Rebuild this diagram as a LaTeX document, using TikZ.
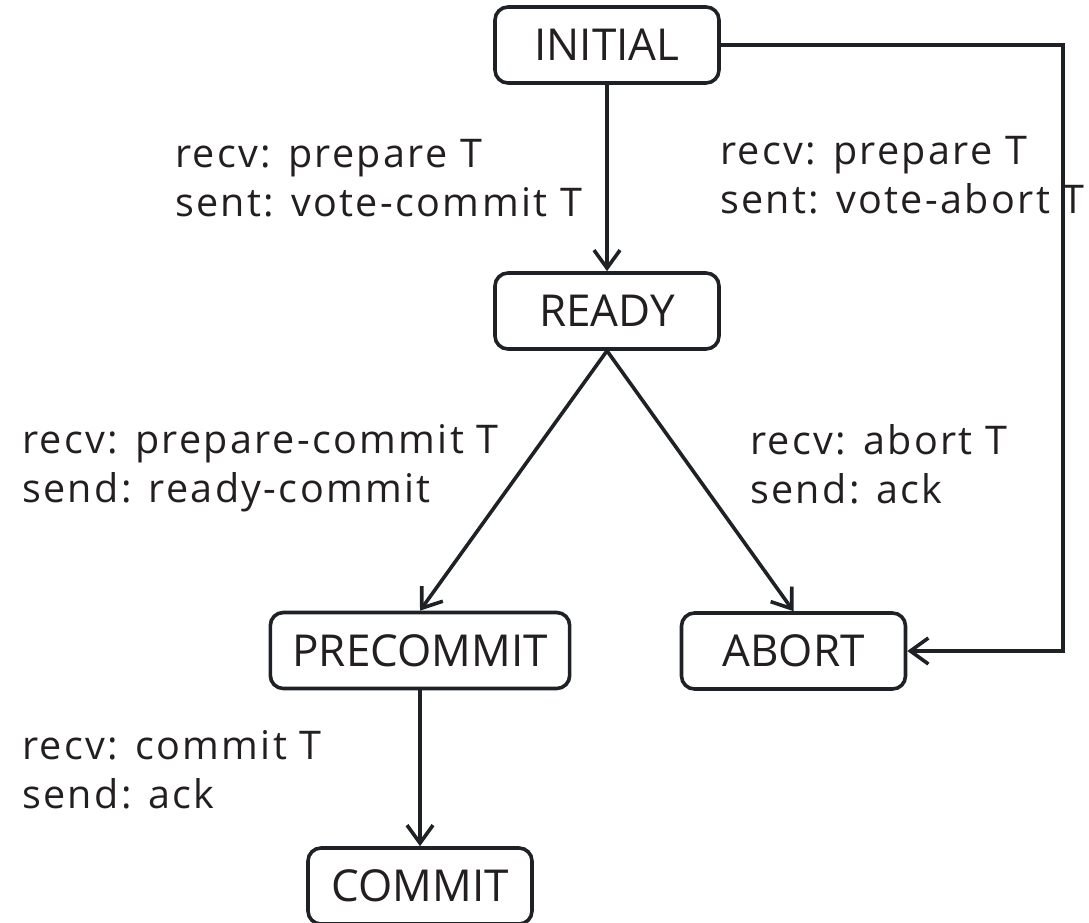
\documentclass[tikz,border=0pt]{standalone}
\usepackage{fontspec}
\setmainfont{Open Sans}
\usetikzlibrary{arrows.meta}
\definecolor{ink}{HTML}{231F20}
\definecolor{edge}{HTML}{1E2226}
\newfontfamily\labfont[LetterSpace=6]{Open Sans}
\begin{document}
\begin{tikzpicture}[x=1pt,y=-1pt,
  state/.style={draw=edge,line width=3.6pt,rounded corners=13pt,minimum width=224pt,minimum height=76pt,
    inner xsep=22pt,text=ink,font=\fontsize{44}{50}\selectfont},
  conn/.style={draw=edge,line width=3.6pt,-{Straight Barb[length=18pt,width=26pt]}},
  lab/.style={anchor=base west,text=ink,align=left,inner sep=0pt,font=\labfont\fontsize{39.5}{49}\selectfont}]
\useasboundingbox (0,0) rectangle (1089,923);
\node[state] (initial) at (607,45) {INITIAL};
\node[state] (ready) at (607,311) {READY};
\node[state] (precommit) at (420,650.5) {PRECOMMIT};
\node[state] (abort) at (793.5,651) {ABORT};
\node[state] (commit) at (420,886) {COMMIT};
\coordinate (c1) at (1063,45);
\coordinate (c2) at (1063,651);
\draw[conn] (initial) -- (ready);
\draw[conn] (ready.south) -- (precommit.north);
\draw[conn] (ready.south) -- (abort.north);
\draw[conn] (precommit) -- (commit);
\draw[conn] (initial.east) -- (c1) -- (c2) -- (abort.east);
\node[lab] (l1) at (175,216) {recv: prepare T\\sent: vote-commit T};
\node[lab] (l2) at (720,213) {recv: prepare T\\sent: vote-abort T};
\node[lab] (l3) at (22,502) {recv: prepare-commit T\\send: ready-commit};
\node[lab] (l4) at (750,503) {recv: abort T\\send: ack};
\node[lab] (l5) at (22,808) {recv: commit T\\send: ack};
\end{tikzpicture}
\end{document}
